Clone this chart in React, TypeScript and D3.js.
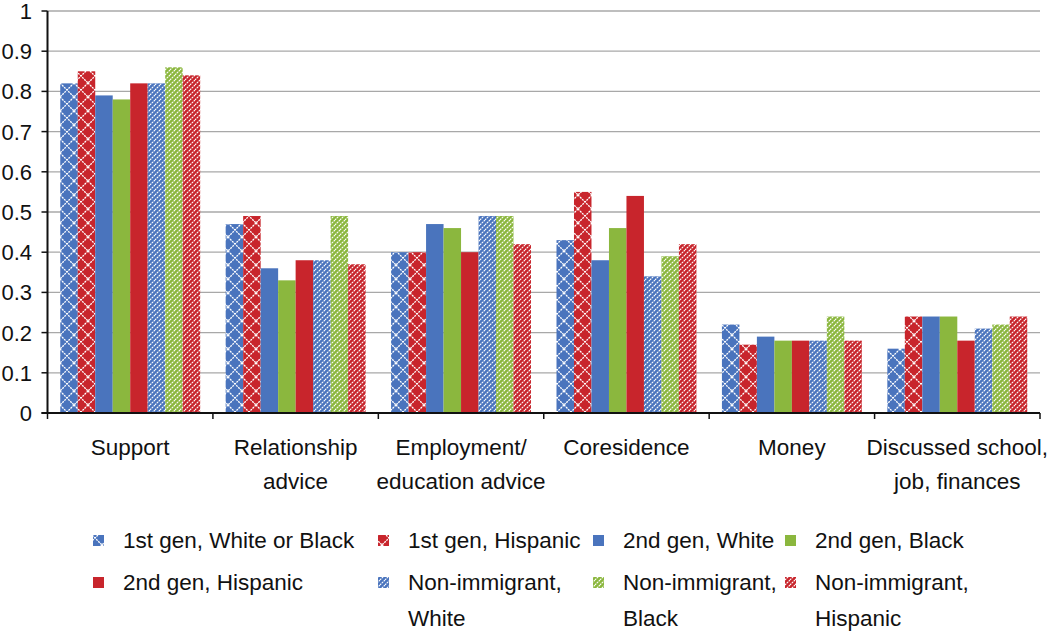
import React from "react";
import * as d3 from "d3";

const categories = [
  ["Support"],
  ["Relationship", "advice"],
  ["Employment/", "education advice"],
  ["Coresidence"],
  ["Money"],
  ["Discussed school,", "job, finances"],
];

const seriesNames = [
  ["1st gen, White or Black"],
  ["1st gen, Hispanic"],
  ["2nd gen, White"],
  ["2nd gen, Black"],
  ["2nd gen, Hispanic"],
  ["Non-immigrant,", "White"],
  ["Non-immigrant,", "Black"],
  ["Non-immigrant,", "Hispanic"],
];

const firstGenWhiteBlack = [0.82, 0.47, 0.4, 0.43, 0.22, 0.16];
const firstGenHispanic = [0.85, 0.49, 0.4, 0.55, 0.17, 0.24];
const secondGenWhite = [0.79, 0.36, 0.47, 0.38, 0.19, 0.24];
const secondGenBlack = [0.78, 0.33, 0.46, 0.46, 0.18, 0.24];
const secondGenHispanic = [0.82, 0.38, 0.4, 0.54, 0.18, 0.18];
const nonImmWhite = [0.82, 0.38, 0.49, 0.34, 0.18, 0.21];
const nonImmBlack = [0.86, 0.49, 0.49, 0.39, 0.24, 0.22];
const nonImmHispanic = [0.84, 0.37, 0.42, 0.42, 0.18, 0.24];

const seriesValues = [
  firstGenWhiteBlack,
  firstGenHispanic,
  secondGenWhite,
  secondGenBlack,
  secondGenHispanic,
  nonImmWhite,
  nonImmBlack,
  nonImmHispanic,
];

const yTicks = [0, 0.1, 0.2, 0.3, 0.4, 0.5, 0.6, 0.7, 0.8, 0.9, 1];
const yTickLabels = ["0", "0.1", "0.2", "0.3", "0.4", "0.5", "0.6", "0.7", "0.8", "0.9", "1"];

const BLUE = "#4a74bd";
const RED = "#c8252c";
const GREEN = "#8bb73e";

const fills = [
  "url(#crossBlue)",
  "url(#crossRed)",
  BLUE,
  GREEN,
  RED,
  "url(#stripeBlue)",
  "url(#stripeGreen)",
  "url(#stripeRed)",
];

const FONT = "'Liberation Sans', Arial, sans-serif";

function CrossPattern({ id, color }: { id: string; color: string }) {
  return (
    <pattern id={id} patternUnits="userSpaceOnUse" width={14} height={14} x={60} y={13}>
      <rect width={14} height={14} fill={color} />
      <path d="M0,0 L14,14 M14,0 L0,14" stroke="#fff" strokeWidth={1.3} strokeDasharray="2 0.9" />
    </pattern>
  );
}

function StripePattern({ id, color }: { id: string; color: string }) {
  return (
    <pattern id={id} patternUnits="userSpaceOnUse" width={5} height={5}>
      <rect width={5} height={5} fill={color} />
      <path d="M-1.25,1.25 L1.25,-1.25 M0,5 L5,0 M3.75,6.25 L6.25,3.75" stroke="#fff" strokeWidth={1.1} strokeDasharray="1.8 0.8" />
    </pattern>
  );
}

export default function App() {
  const width = 1050;
  const height = 636;
  const left = 47.5;
  const right = 1040;
  const top = 11;
  const bottom = 413;

  const x0 = d3
    .scaleBand<number>()
    .domain(d3.range(categories.length))
    .range([left, right])
    .paddingInner(0)
    .paddingOuter(0);
  const innerPad = 12.75;
  const x1 = d3
    .scaleBand<number>()
    .domain(d3.range(seriesValues.length))
    .range([innerPad, x0.bandwidth() - innerPad])
    .paddingOuter(0)
    .paddingInner(0);
  const y = d3.scaleLinear().domain([0, 1]).range([bottom, top]);

  const legendCols = [98, 383, 598, 790];
  const legendRows = [540, 582];

  return (
    <svg width={width} height={height} style={{ position: "absolute", left: 0, top: 0, background: "#fff" }}>
      <defs>
        <CrossPattern id="crossBlue" color={BLUE} />
        <CrossPattern id="crossRed" color={RED} />
        <StripePattern id="stripeBlue" color={BLUE} />
        <StripePattern id="stripeGreen" color={GREEN} />
        <StripePattern id="stripeRed" color={RED} />
      </defs>
      <rect width={width} height={height} fill="#fff" />
      {yTicks.slice(1).map((t) => (
        <line key={"g" + t} x1={left} x2={right} y1={y(t)} y2={y(t)} stroke="#a8a8a8" strokeWidth={1.3} />
      ))}
      {categories.map((_, ci) =>
        seriesValues.map((vals, si) => {
          const bx = (x0(ci) as number) + (x1(si) as number);
          return (
            <rect
              key={ci + "-" + si}
              x={bx}
              y={y(vals[ci])}
              width={x1.bandwidth()}
              height={bottom - y(vals[ci])}
              fill={fills[si]}
            />
          );
        })
      )}
      <line x1={left} x2={left} y1={top} y2={bottom} stroke="#111" strokeWidth={2} />
      {yTicks.map((t, i) => (
        <g key={"yt" + t}>
          <line x1={left - 6} x2={left} y1={y(t)} y2={y(t)} stroke="#111" strokeWidth={1.5} />
          <text x={32} y={y(t)} dy="0.36em" textAnchor="end" fontFamily={FONT} fontSize={22} fill="#111">
            {yTickLabels[i]}
          </text>
        </g>
      ))}
      <line x1={left - 6} x2={right} y1={bottom} y2={bottom} stroke="#111" strokeWidth={2} />
      {d3.range(categories.length + 1).map((i) => {
        const xx = i < categories.length ? (x0(i) as number) : right;
        return <line key={"xt" + i} x1={xx} x2={xx} y1={bottom} y2={bottom + 6} stroke="#111" strokeWidth={1.5} />;
      })}
      {categories.map((lines, ci) => (
        <text key={"cat" + ci} textAnchor="middle" fontFamily={FONT} fontSize={22.5} fill="#111">
          {lines.map((ln, li) => (
            <tspan key={li} x={(x0(ci) as number) + x0.bandwidth() / 2} y={455 + li * 34}>
              {ln}
            </tspan>
          ))}
        </text>
      ))}
      {seriesNames.map((lines, si) => {
        const col = si % 4;
        const row = Math.floor(si / 4);
        const mx = legendCols[col];
        const my = legendRows[row];
        return (
          <g key={"lg" + si}>
            <rect x={mx - 5} y={my - 5} width={11} height={11} fill={fills[si]} />
            <text fontFamily={FONT} fontSize={22.5} fill="#111">
              {lines.map((ln, li) => (
                <tspan key={li} x={mx + 25} y={my + 8 + li * 36}>
                  {ln}
                </tspan>
              ))}
            </text>
          </g>
        );
      })}
    </svg>
  );
}
